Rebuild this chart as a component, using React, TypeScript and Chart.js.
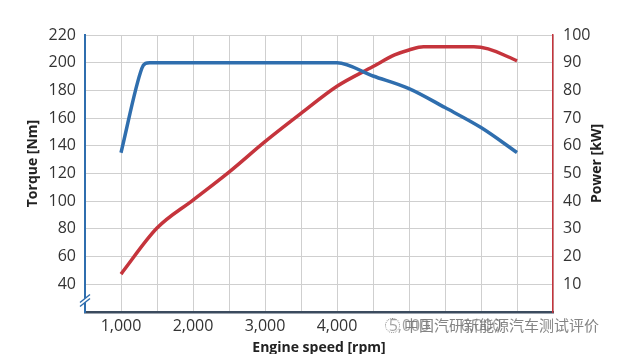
import React, { useEffect, useRef } from "react";
import { Chart, registerables } from "chart.js";

Chart.register(...registerables);

const rpmTorque = [1000, 1290, 1340, 1400, 4000, 4500, 5000, 5500, 6000, 6500];
const torqueValues = [135, 196, 199.5, 200, 200, 190.4, 181.3, 167.6, 153.2, 135.2];
const rpmPower = [1000, 1500, 2000, 2500, 3000, 3500, 4000, 4500, 4800, 5000, 5200, 5900, 6100, 6500];
const powerValues = [13.7, 30.3, 40.4, 50.5, 61.5, 71.7, 81.5, 88.6, 92.8, 94.6, 95.8, 95.8, 95, 90.7];

const leftTitle = "Torque [Nm]";
const rightTitle = "Power [kW]";
const bottomTitle = "Engine speed [rpm]";

const FONT = "'Open Sans', 'Noto Sans', sans-serif";
const BLUE = "#2f6eae";
const RED = "#c5343c";

const decorations = {
  id: "decorations",
  afterDraw(chart: any) {
    const ctx = chart.ctx;
    const ys = chart.scales.y;
    const area = chart.chartArea;
    const x = area.left;
    const y = ys.getPixelForValue(29);
    ctx.save();
    // axis break mark
    ctx.fillStyle = "#ffffff";
    ctx.beginPath();
    ctx.moveTo(x - 5, y + 3);
    ctx.lineTo(x + 5, y - 5);
    ctx.lineTo(x + 5, y - 1);
    ctx.lineTo(x - 5, y + 7);
    ctx.closePath();
    ctx.fill();
    ctx.strokeStyle = BLUE;
    ctx.lineWidth = 1.5;
    ctx.beginPath();
    ctx.moveTo(x - 5, y + 3);
    ctx.lineTo(x + 5, y - 5);
    ctx.moveTo(x - 5, y + 7);
    ctx.lineTo(x + 5, y - 1);
    ctx.stroke();
    // vertical axis titles (both read bottom-to-top)
    const cy = (area.top + area.bottom) / 2 - 10;
    ctx.fillStyle = "#222";
    ctx.font = `bold 14px ${FONT}`;
    ctx.textAlign = "center";
    ctx.textBaseline = "middle";
    [
      [33, leftTitle],
      [597, rightTitle],
    ].forEach(([tx, text]) => {
      ctx.save();
      ctx.translate(tx as number, cy);
      ctx.rotate(-Math.PI / 2);
      ctx.fillText(text as string, 0, 0);
      ctx.restore();
    });
    ctx.restore();
  },
};

export default function App() {
  const ref = useRef<HTMLCanvasElement>(null);
  useEffect(() => {
    document.body.style.margin = "0";
    const chart = new Chart(ref.current as HTMLCanvasElement, {
      type: "line",
      data: {
        datasets: [
          {
            label: "Torque",
            data: rpmTorque.map((r, i) => ({ x: r, y: torqueValues[i] })),
            borderColor: BLUE,
            borderWidth: 3.5,
            pointRadius: 0,
            cubicInterpolationMode: "monotone",
            yAxisID: "y",
          },
          {
            label: "Power",
            data: rpmPower.map((r, i) => ({ x: r, y: powerValues[i] })),
            borderColor: RED,
            borderWidth: 3.5,
            pointRadius: 0,
            cubicInterpolationMode: "monotone",
            yAxisID: "y1",
          },
        ],
      },
      options: {
        responsive: false,
        animation: false,
        layout: { padding: { top: 35, left: 0, right: 0, bottom: 0 } },
        plugins: { legend: { display: false }, tooltip: { enabled: false } },
        scales: {
          x: {
            type: "linear",
            min: 500,
            max: 7000,
            afterFit: (s: any) => {
              s.height = 48;
            },
            ticks: {
              stepSize: 500,
              autoSkip: false,
              maxRotation: 0,
              padding: 5,
              color: "#333",
              font: { family: FONT, size: 16 },
              callback: (v: any) =>
                v % 1000 === 0 && v <= 6000 ? Number(v).toLocaleString("en-US") : "",
            },
            grid: { color: "#cfcfcf", drawTicks: false },
            border: { color: "#3b4b5e", width: 2.5 },
            title: {
              display: true,
              text: bottomTitle,
              color: "#222",
              font: { family: FONT, size: 14, weight: "bold" },
              padding: { top: 0, bottom: 4 },
            },
          },
          y: {
            position: "left",
            min: 20,
            max: 220,
            afterFit: (s: any) => {
              s.width = 85;
            },
            ticks: {
              stepSize: 20,
              padding: 9,
              color: "#333",
              font: { family: FONT, size: 16 },
              callback: (v: any) => (v === 20 ? "" : String(v)),
            },
            grid: { color: "#cfcfcf", drawTicks: false },
            border: { color: BLUE, width: 2 },
          },
          y1: {
            position: "right",
            min: 0,
            max: 100,
            afterFit: (s: any) => {
              s.width = 77;
            },
            ticks: {
              stepSize: 10,
              padding: 10,
              color: "#333",
              font: { family: FONT, size: 16 },
              callback: (v: any) => (v === 0 ? "" : String(v)),
            },
            grid: { display: false, drawTicks: false },
            border: { color: RED, width: 1.5 },
          },
        },
      } as any,
      plugins: [decorations],
    });
    return () => chart.destroy();
  }, []);

  return (
    <div style={{ position: "relative", width: 630, height: 354, overflow: "hidden", background: "#fff" }}>
      <canvas ref={ref} width={630} height={360} style={{ display: "block" }} />
      <div
        style={{
          position: "absolute",
          left: 383,
          top: 315,
          display: "flex",
          alignItems: "center",
          gap: 4,
          padding: "0 2px",
          background: "rgba(255,255,255,0.55)",
          color: "rgba(110,110,110,0.85)",
          fontFamily: "'Noto Sans CJK SC', sans-serif",
          fontSize: 15,
          lineHeight: "20px",
        }}
      >
        <span
          style={{
            display: "inline-block",
            width: 13,
            height: 13,
            borderRadius: "50%",
            border: "1.5px dotted rgba(110,110,110,0.8)",
          }}
        />
        <span>中国汽研新能源汽车测试评价</span>
      </div>
    </div>
  );
}
